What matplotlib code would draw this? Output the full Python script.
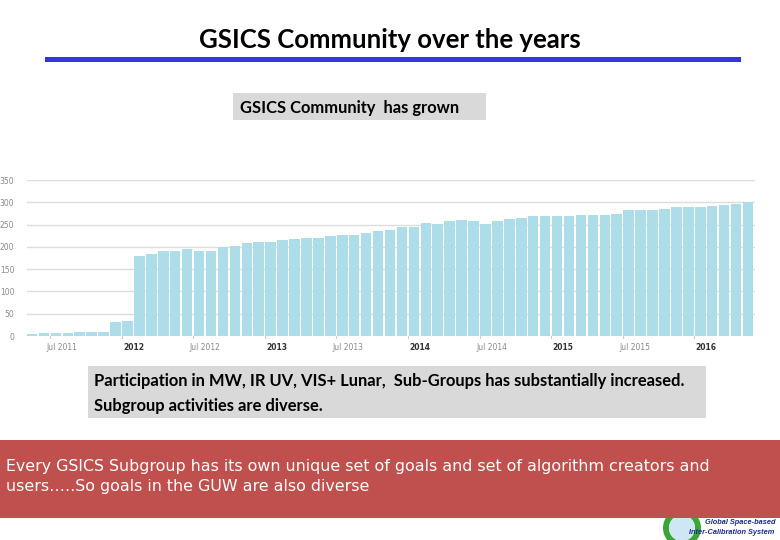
import matplotlib
matplotlib.use("Agg")
import matplotlib.pyplot as plt
from matplotlib.patches import Rectangle, Circle, Wedge

# ---------------- data ----------------
months = ["Apr 2011", "May 2011", "Jun 2011", "Jul 2011", "Aug 2011", "Sep 2011", "Oct 2011",
          "Nov 2011", "Dec 2011", "Jan 2012", "Feb 2012", "Mar 2012", "Apr 2012", "May 2012",
          "Jun 2012", "Jul 2012", "Aug 2012", "Sep 2012", "Oct 2012", "Nov 2012", "Dec 2012",
          "Jan 2013", "Feb 2013", "Mar 2013", "Apr 2013", "May 2013", "Jun 2013", "Jul 2013",
          "Aug 2013", "Sep 2013", "Oct 2013", "Nov 2013", "Dec 2013", "Jan 2014", "Feb 2014",
          "Mar 2014", "Apr 2014", "May 2014", "Jun 2014", "Jul 2014", "Aug 2014", "Sep 2014",
          "Oct 2014", "Nov 2014", "Dec 2014", "Jan 2015", "Feb 2015", "Mar 2015", "Apr 2015",
          "May 2015", "Jun 2015", "Jul 2015", "Aug 2015", "Sep 2015", "Oct 2015", "Nov 2015",
          "Dec 2015", "Jan 2016", "Feb 2016", "Mar 2016", "Apr 2016"]
members = [4, 6, 6, 6, 10, 10, 10, 31, 33, 179, 184, 190, 190, 195, 190, 190, 199, 202, 208, 211,
           211, 215, 217, 220, 220, 224, 226, 226, 231, 235, 238, 244, 244, 253, 251, 258, 260,
           258, 251, 258, 262,
           265, 269, 269, 269, 269, 271, 271, 271, 274, 283, 283, 283, 285, 289, 289, 289, 292,
           294, 296, 301]
tick_labels = ["Jul 2011", "2012", "Jul 2012", "2013", "Jul 2013", "2014", "Jul 2014",
               "2015", "Jul 2015", "2016"]
tick_months = ["Jul 2011", "Jan 2012", "Jul 2012", "Jan 2013", "Jul 2013", "Jan 2014",
               "Jul 2014", "Jan 2015", "Jul 2015", "Jan 2016"]
y_ticks = [0, 50, 100, 150, 200, 250, 300, 350]

title = "GSICS Community over the years"
box1_text = "GSICS Community  has grown"
box2_lines = ["Participation in MW, IR UV, VIS+ Lunar,  Sub-Groups has substantially increased.",
              "Subgroup activities are diverse."]
red_lines = ["Every GSICS Subgroup has its own unique set of goals and set of algorithm creators and",
             "users…..So goals in the GUW are also diverse"]
logo_lines = ["Global Space-based", "Inter-Calibration System"]

W, H = 780, 540
fig = plt.figure(figsize=(W / 100, H / 100), dpi=100)
fig.patch.set_facecolor("white")

bg = fig.add_axes([0, 0, 1, 1])
bg.set_xlim(0, W)
bg.set_ylim(H, 0)
bg.axis("off")

renderer = fig.canvas.get_renderer()


def fit_text(ax, x, y, s, target_w, **kw):
    t = ax.text(x, y, s, **kw)
    fs = t.get_fontsize()
    for _ in range(3):
        bb = t.get_window_extent(renderer=renderer)
        fs = fs * target_w / bb.width
        t.set_fontsize(fs)
    return t


# title + blue rule
fit_text(bg, 390, 40, title, 380, ha="center", va="center", family=["Lato", "DejaVu Sans"],
         weight="bold", fontsize=16, color="black")
bg.add_patch(Rectangle((45, 56.5), 696, 5, facecolor="#3535e0", edgecolor="none"))

# box 1
bg.add_patch(Rectangle((233, 93), 253, 27, facecolor="#d9d9d9", edgecolor="none"))
fit_text(bg, 240, 108, box1_text, 220, ha="left", va="center", family=["Lato", "DejaVu Sans"],
         weight="bold", fontsize=10, color="black")

# box 2
bg.add_patch(Rectangle((88, 366), 618, 52, facecolor="#d9d9d9", edgecolor="none"))
t2 = fit_text(bg, 94, 381, box2_lines[0], 594, ha="left", va="center",
              family=["Lato", "DejaVu Sans"], weight="bold", fontsize=11, color="black")
bg.text(94, 406, box2_lines[1], ha="left", va="center", family=["Lato", "DejaVu Sans"],
        weight="bold", fontsize=t2.get_fontsize(), color="black")

# logo (behind red box)
bg.add_patch(Wedge((682, 528), 19, 0, 360, width=6, facecolor="#3aa635", edgecolor="none", zorder=1))
bg.add_patch(Circle((682, 528), 13, facecolor="#cfe6f5", edgecolor="none", zorder=1))
logo_font = ["Liberation Sans Narrow", "Liberation Sans", "DejaVu Sans"]
fit_text(bg, 705, 522, logo_lines[0], 70, ha="left", va="center", family=logo_font,
         weight="bold", style="italic", fontsize=6, color="#1c2b8c", zorder=1)
fit_text(bg, 689, 533, logo_lines[1], 86, ha="left", va="center", family=logo_font,
         weight="bold", style="italic", fontsize=6, color="#1c2b8c", zorder=1)

# red box
bg.add_patch(Rectangle((0, 440), 780, 78, facecolor="#c0504d", edgecolor="none", zorder=2))
t3 = fit_text(bg, 6, 466, red_lines[0], 707, ha="left", va="center", family="DejaVu Sans",
              fontsize=11, color="white", zorder=3)
bg.text(6, 486, red_lines[1], ha="left", va="center", family="DejaVu Sans",
        fontsize=t3.get_fontsize(), color="white", zorder=3)

# ---------------- chart ----------------
x0, x1, ytop, ybot = 27, 755, 180, 336
ax = fig.add_axes([x0 / W, 1 - ybot / H, (x1 - x0) / W, (ybot - ytop) / H])
ax.patch.set_alpha(0)
xs = list(range(len(months)))
ax.bar(xs, members, width=0.88, color="#acdde9", edgecolor="none", zorder=2)
step = (748 - 32) / 60
ax.set_xlim(-(32 - x0) / step, 60 + (x1 - 748) / step)
ax.set_ylim(0, 350)
ax.set_yticks(y_ticks)
ax.grid(axis="y", color="#dcdcdc", linewidth=1, zorder=0)
for s in ax.spines.values():
    s.set_visible(False)
ax.tick_params(axis="y", length=0, pad=9, labelsize=5.5, labelcolor="#8a8a8a")
for lab in ax.get_yticklabels():
    lab.set_horizontalalignment("right")

label_pos = [months.index(m) - 0.5 for m in tick_months]
ax.set_xticks(label_pos)
ax.set_xticklabels(tick_labels)
ax.tick_params(axis="x", length=0, pad=5, labelsize=5.5)
for lab in ax.get_xticklabels():
    if lab.get_text().startswith("Jul"):
        lab.set_color("#8a8a8a")
    else:
        lab.set_color("#333333")
        lab.set_fontweight("bold")
# small tick marks one slot to the left of each label
for p in label_pos:
    ax.plot([p - 1, p - 1], [0, -4], color="#cccccc", lw=0.8, clip_on=False, zorder=1)

fig.savefig("out.png", dpi=100)
